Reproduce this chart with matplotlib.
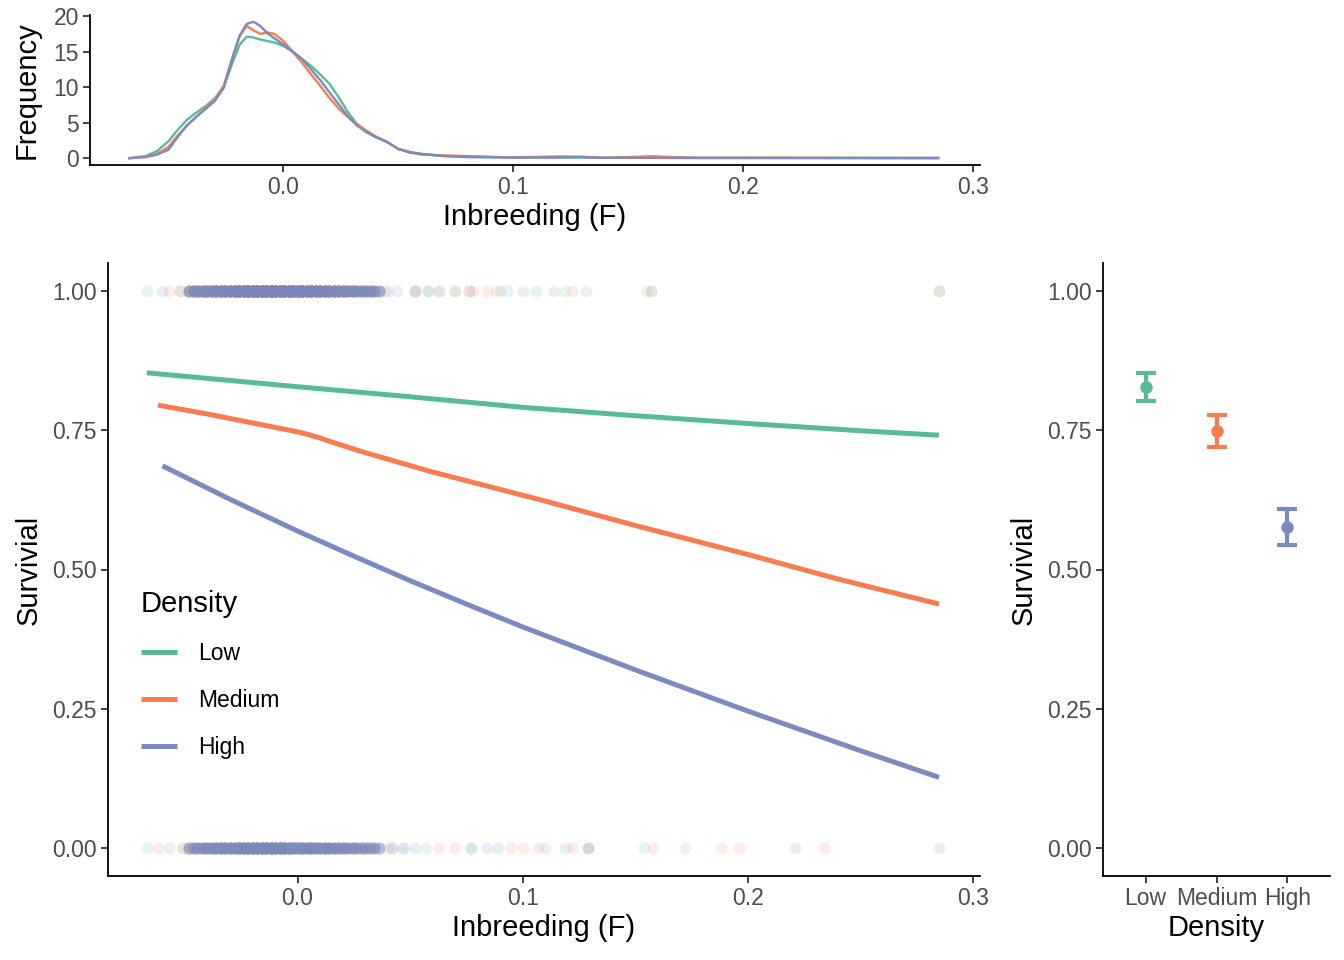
import numpy as np
import matplotlib
matplotlib.use("Agg")
import matplotlib.pyplot as plt

plt.rcParams['font.family'] = ['Liberation Sans', 'DejaVu Sans']

groups = ['Low', 'Medium', 'High']
colors = {'Low': '#59BB94', 'Medium': '#F97C50', 'High': '#7B8BC2'}

# ---- density of inbreeding (top panel)
dens_F = [-0.067, -0.060, -0.055, -0.050, -0.046, -0.042, -0.038, -0.034, -0.030, -0.026,
          -0.022, -0.019, -0.016, -0.013, -0.010, -0.007, -0.004, 0.000, 0.004, 0.008,
          0.012, 0.016, 0.020, 0.024, 0.028, 0.032, 0.036, 0.040, 0.045, 0.050,
          0.055, 0.060, 0.070, 0.080, 0.100, 0.120, 0.130, 0.140, 0.160, 0.180,
          0.220, 0.285]
dens_low = [0.0, 0.3, 1.0, 2.4, 4.0, 5.4, 6.4, 7.3, 8.4, 10.0,
            13.6, 16.0, 17.1, 17.0, 16.7, 16.5, 16.3, 15.8, 15.0, 14.0,
            13.0, 11.8, 10.5, 8.6, 6.5, 4.8, 3.7, 3.0, 2.3, 1.3,
            0.9, 0.6, 0.3, 0.2, 0.1, 0.1, 0.1, 0.05, 0.25, 0.05,
            0.03, 0.02]
dens_med = [0.0, 0.2, 0.6, 1.6, 3.2, 4.6, 5.8, 7.0, 8.2, 10.2,
            14.4, 17.2, 18.6, 18.0, 17.5, 17.7, 17.5, 16.5, 15.0, 13.5,
            11.8, 10.2, 8.5, 7.0, 5.8, 4.8, 3.9, 3.1, 2.3, 1.3,
            0.8, 0.5, 0.4, 0.3, 0.1, 0.25, 0.2, 0.05, 0.2, 0.05,
            0.05, 0.02]
dens_high = [0.0, 0.15, 0.5, 1.2, 3.0, 4.6, 5.8, 6.9, 8.0, 9.9,
             14.3, 17.3, 18.9, 19.2, 18.6, 17.6, 16.9, 16.0, 15.0, 14.0,
             12.5, 11.0, 9.3, 7.6, 5.9, 4.6, 3.7, 3.0, 2.3, 1.3,
             0.8, 0.6, 0.3, 0.15, 0.1, 0.1, 0.15, 0.05, 0.05, 0.02,
             0.03, 0.02]
dens = {'Low': dens_low, 'Medium': dens_med, 'High': dens_high}

# ---- fitted survival curves (main panel)
fit_F_low = [-0.067, 0.0, 0.05, 0.1, 0.15, 0.2, 0.25, 0.285]
fit_S_low = [0.853, 0.828, 0.810, 0.791, 0.776, 0.762, 0.749, 0.741]
fit_F_med = [-0.062, -0.04, -0.02, -0.01, 0.0, 0.005, 0.010, 0.015, 0.029, 0.059, 0.108,
             0.15, 0.2, 0.24, 0.285]
fit_S_med = [0.795, 0.779, 0.763, 0.755, 0.747, 0.742, 0.736, 0.729, 0.711, 0.676, 0.625,
             0.579, 0.527, 0.483, 0.438]
fit_F_high = [-0.060, -0.030, 0.0, 0.025, 0.05, 0.075, 0.1, 0.15, 0.2, 0.25, 0.285]
fit_S_high = [0.686, 0.626, 0.569, 0.524, 0.480, 0.438, 0.397, 0.320, 0.246, 0.175, 0.127]
fits = {'Low': (fit_F_low, fit_S_low), 'Medium': (fit_F_med, fit_S_med),
        'High': (fit_F_high, fit_S_high)}

# ---- raw observations: dense core (binned values + counts) and sparse individuals
core_F = [-0.048, -0.046, -0.044, -0.042, -0.040, -0.038, -0.036, -0.034, -0.032, -0.030,
          -0.028, -0.026, -0.024, -0.022, -0.020, -0.018, -0.016, -0.014, -0.012, -0.010,
          -0.008, -0.006, -0.004, -0.002, 0.000, 0.002, 0.004, 0.006, 0.008, 0.010,
          0.012, 0.014, 0.016, 0.018, 0.020, 0.022, 0.024, 0.026, 0.028, 0.030,
          0.032, 0.034, 0.036]
core_alive = {
    'Low':    [2, 3, 3, 4, 4, 5, 5, 6, 6, 7, 8, 9, 10, 11, 12, 13, 13, 13, 12, 12, 11, 11,
               10, 10, 9, 9, 8, 8, 7, 7, 6, 5, 5, 4, 4, 3, 3, 3, 2, 2, 2, 2, 1],
    'Medium': [2, 3, 3, 4, 4, 5, 5, 5, 6, 7, 8, 9, 10, 11, 12, 12, 12, 12, 12, 11, 11, 10,
               10, 9, 9, 8, 8, 7, 7, 6, 6, 5, 4, 4, 3, 3, 3, 2, 2, 2, 2, 1, 1],
    'High':   [6, 7, 8, 8, 9, 9, 10, 10, 11, 11, 12, 12, 13, 13, 14, 14, 14, 14, 14, 14, 13, 13,
               13, 12, 12, 12, 11, 11, 11, 10, 10, 9, 9, 9, 8, 8, 8, 7, 7, 7, 6, 6, 5],
}
core_dead = {
    'Low':    [1, 1, 1, 1, 1, 1, 2, 2, 2, 2, 2, 2, 3, 3, 3, 3, 3, 3, 3, 3, 3, 3,
               3, 2, 2, 2, 2, 2, 2, 2, 2, 2, 1, 1, 1, 1, 1, 1, 1, 1, 1, 1, 0],
    'Medium': [1, 1, 1, 2, 2, 2, 2, 3, 3, 3, 3, 4, 4, 4, 4, 4, 4, 4, 4, 4, 4, 4,
               3, 3, 3, 3, 3, 3, 3, 2, 2, 2, 2, 2, 2, 1, 1, 1, 1, 1, 1, 1, 1],
    'High':   [5, 6, 6, 7, 7, 8, 8, 9, 9, 10, 10, 11, 11, 11, 12, 12, 12, 12, 12, 12, 11, 11,
               11, 10, 10, 10, 9, 9, 9, 8, 8, 8, 7, 7, 7, 6, 6, 6, 5, 5, 5, 5, 4],
}
extra_alive = {
    'Low':    [-0.067, -0.052, 0.052, 0.058, 0.070, 0.090, 0.093, 0.106, 0.119, 0.155, 0.157, 0.285],
    'Medium': [-0.057, -0.052, 0.040, 0.052, 0.063, 0.070, 0.076, 0.078, 0.084, 0.088, 0.122, 0.157, 0.285],
    'High':   [-0.060, 0.039, 0.044, 0.052, 0.058, 0.063, 0.076, 0.100, 0.114, 0.128],
}
extra_dead = {
    'Low':    [-0.067, -0.051, 0.047, 0.057, 0.077, 0.110, 0.129, 0.154, 0.172],
    'Medium': [-0.062, -0.051, 0.042, 0.063, 0.070, 0.095, 0.100, 0.107, 0.122, 0.129, 0.158, 0.188, 0.196, 0.234],
    'High':   [-0.057, 0.040, 0.042, 0.047, 0.052, 0.077, 0.084, 0.089, 0.119, 0.129, 0.221, 0.285],
}

# ---- group means with error bars (right panel)
mean_S = [0.828, 0.749, 0.576]
lo_S = [0.803, 0.720, 0.544]
hi_S = [0.853, 0.777, 0.609]

fig = plt.figure(figsize=(13.44, 9.6), dpi=100)
ax_top = fig.add_axes([90/1344, 1-165/960, 890/1344, 150/960])
ax = fig.add_axes([108/1344, 1-876/960, 872/1344, 613/960])
ax_r = fig.add_axes([1103/1344, 1-876/960, 227/1344, 613/960])

tick_col = '#4D4D4D'
tick_fs = 16.5
title_fs = 21
for a in (ax_top, ax, ax_r):
    for s in ('top', 'right'):
        a.spines[s].set_visible(False)
    for s in ('left', 'bottom'):
        a.spines[s].set_linewidth(1.3)
        a.spines[s].set_color('black')
    a.tick_params(labelsize=tick_fs, labelcolor=tick_col, length=5, width=1.3,
                  color='#333333', pad=3)

xlim = (-0.0842, 0.3032)

# top density panel
for g in groups:
    ax_top.plot(dens_F, dens[g], color=colors[g], lw=1.7, solid_joinstyle='round')
ax_top.set_xlim(xlim)
ax_top.set_ylim(-0.96, 20.16)
ax_top.set_yticks([0, 5, 10, 15, 20])
ax_top.set_xticks([0.0, 0.1, 0.2, 0.3])
ax_top.set_xticklabels(['0.0', '0.1', '0.2', '0.3'])
ax_top.set_xlabel('Inbreeding (F)', fontsize=title_fs, labelpad=3)
ax_top.set_ylabel('Frequency', fontsize=title_fs, labelpad=9)

# main panel: raw points then fitted lines
for g in groups:
    alive = np.concatenate([np.repeat(core_F, core_alive[g]), extra_alive[g]])
    dead = np.concatenate([np.repeat(core_F, core_dead[g]), extra_dead[g]])
    ax.scatter(alive, np.ones_like(alive), s=74, color=colors[g], alpha=0.14, lw=0)
    ax.scatter(dead, np.zeros_like(dead), s=74, color=colors[g], alpha=0.14, lw=0)
for g in groups:
    fx, fy = fits[g]
    ax.plot(fx, fy, color=colors[g], lw=3.6, label=g, solid_capstyle='butt')
ax.set_xlim(xlim)
ax.set_ylim(-0.05, 1.05)
ax.set_yticks([0, 0.25, 0.5, 0.75, 1.0])
ax.set_yticklabels(['0.00', '0.25', '0.50', '0.75', '1.00'])
ax.set_xticks([0.0, 0.1, 0.2, 0.3])
ax.set_xticklabels(['0.0', '0.1', '0.2', '0.3'])
ax.set_xlabel('Inbreeding (F)', fontsize=title_fs, labelpad=3)
ax.set_ylabel('Survivial', fontsize=title_fs, labelpad=7)
leg = ax.legend(title='Density', loc='upper left',
                bbox_to_anchor=(120/1344, 1-569/960), bbox_transform=fig.transFigure,
                frameon=False, fontsize=tick_fs, title_fontsize=title_fs,
                handlelength=1.6, handletextpad=0.9, labelspacing=1.05)
leg._legend_box.align = 'left'

# right panel: means with error bars
xpos = np.arange(len(groups))
for i, g in enumerate(groups):
    ax_r.errorbar(xpos[i], mean_S[i],
                  yerr=[[mean_S[i] - lo_S[i]], [hi_S[i] - mean_S[i]]],
                  fmt='o', color=colors[g], ms=8, elinewidth=3, capsize=7, capthick=3)
ax_r.set_xlim(-0.6, 2.6)
ax_r.set_ylim(-0.05, 1.05)
ax_r.set_xticks(xpos)
ax_r.set_xticklabels(groups)
ax_r.set_yticks([0, 0.25, 0.5, 0.75, 1.0])
ax_r.set_yticklabels(['0.00', '0.25', '0.50', '0.75', '1.00'])
ax_r.set_xlabel('Density', fontsize=title_fs, labelpad=3)
ax_r.set_ylabel('Survivial', fontsize=title_fs, labelpad=7)

fig.savefig('out.png', dpi=100)
